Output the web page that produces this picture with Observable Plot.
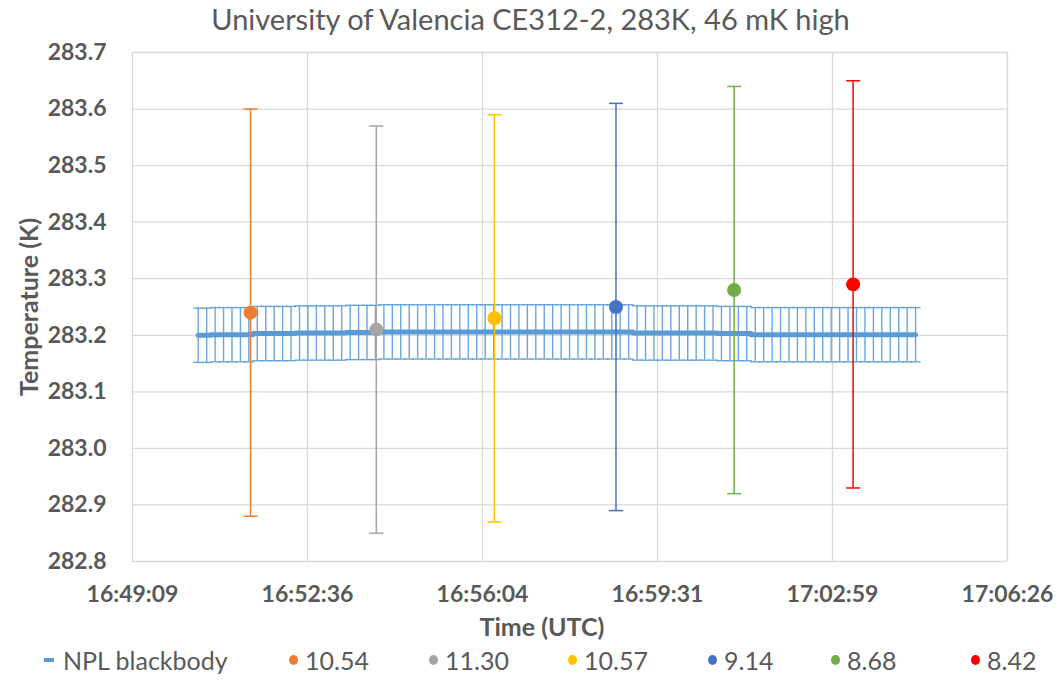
<!DOCTYPE html>
<html>
<head>
<meta charset="utf-8">
<script src="https://cdn.jsdelivr.net/npm/d3@7"></script>
<script src="https://cdn.jsdelivr.net/npm/@observablehq/plot@0.6"></script>
<style>
  body { margin: 0; background: #fff; font-family: Lato, "Open Sans", sans-serif; }
  #wrap { width: 1061px; height: 680px; position: relative; overflow: hidden; }
  #title { position: absolute; top: 1px; left: 0; width: 1061px; text-align: center; font-size: 29px; color: #595959; }
  #chart { position: absolute; top: 40px; left: 0; }
  #chart svg { font-family: Lato, "Open Sans", sans-serif; }
  #legend { position: absolute; top: 645px; left: 0; width: 1061px; height: 34px; }
  .item { position: absolute; top: 0; display: flex; align-items: center; font-size: 25px; color: #595959; }
  .dash { width: 10px; height: 4px; margin-right: 9px; }
  .dotm { width: 9px; height: 10px; border-radius: 50%; margin-right: 7px; }
</style>
</head>
<body>
<div id="wrap">
  <div id="title">University of Valencia CE312-2, 283K, 46 mK high</div>
  <div id="chart"></div>
  <div id="legend"></div>
</div>
<script>
// ---- Data ----
const bbTimes = [
  "16:50:27","16:50:37","16:50:47","16:50:57",
  "16:51:07","16:51:17","16:51:27","16:51:37","16:51:47","16:51:57",
  "16:52:07","16:52:17","16:52:27","16:52:37","16:52:47","16:52:57",
  "16:53:07","16:53:17","16:53:27","16:53:37","16:53:47","16:53:57",
  "16:54:07","16:54:17","16:54:27","16:54:37","16:54:47","16:54:57",
  "16:55:07","16:55:17","16:55:27","16:55:37","16:55:47","16:55:57",
  "16:56:07","16:56:17","16:56:27","16:56:37","16:56:47","16:56:57",
  "16:57:07","16:57:17","16:57:27","16:57:37","16:57:47","16:57:57",
  "16:58:07","16:58:17","16:58:27","16:58:37","16:58:47","16:58:57",
  "16:59:07","16:59:17","16:59:27","16:59:37","16:59:47","16:59:57",
  "17:00:07","17:00:17","17:00:27","17:00:37","17:00:47","17:00:57",
  "17:01:07","17:01:17","17:01:27","17:01:37","17:01:47","17:01:57",
  "17:02:07","17:02:17","17:02:27","17:02:37","17:02:47","17:02:57",
  "17:03:07","17:03:17","17:03:27","17:03:37","17:03:47","17:03:57",
  "17:04:07","17:04:17","17:04:27","17:04:37"
];
const bbTemps = [
  283.200,283.200,283.201,283.201,283.201,283.201,283.201,283.203,283.203,283.203,
  283.203,283.203,283.204,283.204,283.204,283.204,283.204,283.204,283.205,283.205,
  283.205,283.205,283.206,283.206,283.206,283.206,283.206,283.206,283.206,283.206,
  283.206,283.206,283.206,283.206,283.206,283.206,283.206,283.206,283.206,283.206,
  283.206,283.206,283.206,283.206,283.206,283.206,283.206,283.206,283.206,283.206,
  283.206,283.206,283.204,283.204,283.204,283.204,283.204,283.204,283.204,283.204,
  283.204,283.204,283.203,283.203,283.203,283.203,283.201,283.201,283.201,283.201,
  283.201,283.201,283.201,283.201,283.201,283.201,283.201,283.201,283.201,283.201,
  283.201,283.201,283.201,283.201,283.201,283.201
];
const bbErr = 0.048;
const bbLabel = "NPL blackbody";

const sampleTimes = ["16:51:29","16:53:58","16:56:18","16:58:42","17:01:02","17:03:23"];
const sampleTemps = [283.24, 283.21, 283.23, 283.25, 283.28, 283.29];
const sampleErr = 0.36;
const sampleLabels = ["10.54","11.30","10.57","9.14","8.68","8.42"];

const xTickTimes = ["16:49:09.12","16:52:36.48","16:56:03.84","16:59:31.20","17:02:58.56","17:06:25.92"];
const xTickLabels = ["16:49:09","16:52:36","16:56:04","16:59:31","17:02:59","17:06:26"];
const yTicks = [282.8, 282.9, 283.0, 283.1, 283.2, 283.3, 283.4, 283.5, 283.6, 283.7];

// ---- Styles ----
const bbColor = "#5B9BD5";
const sampleColors = ["#ED7D31","#A5A5A5","#FFC000","#4472C4","#70AD47","#FF0000"];
const textColor = "#595959";
const gridColor = "#D9D9D9";

// ---- Build ----
const parseT = t => new Date(`2000-01-01T${t}Z`);
const bb = bbTimes.map((t, i) => ({t: parseT(t), v: bbTemps[i]}));
const samples = sampleTimes.map((t, i) => ({t: parseT(t), v: sampleTemps[i], label: sampleLabels[i], color: sampleColors[i]}));
const xTicks = xTickTimes.map(parseT);
const labelMap = new Map(xTicks.map((d, i) => [+d, xTickLabels[i]]));

const cap = w => ({draw(ctx) { ctx.moveTo(-w, 0); ctx.lineTo(w, 0); }});

const plot = Plot.plot({
  width: 1061,
  height: 601,
  marginLeft: 132,
  marginRight: 54,
  marginTop: 12,
  marginBottom: 80,
  style: {fontSize: "23px", color: textColor, background: "white", overflow: "visible"},
  x: {type: "utc", domain: [xTicks[0], xTicks[xTicks.length - 1]]},
  y: {domain: [282.8, 283.7]},
  marks: [
    Plot.gridX(xTicks, {stroke: gridColor, strokeOpacity: 1, strokeWidth: 1.3}),
    Plot.gridY(yTicks, {stroke: gridColor, strokeOpacity: 1, strokeWidth: 1.3}),
    Plot.axisX(xTicks, {tickSize: 0, tickPadding: 24, tickFormat: d => labelMap.get(+d), fontWeight: "bold",
      label: "Time (UTC)", labelAnchor: "center", labelArrow: "none", labelOffset: 74}),
    Plot.axisY(yTicks, {tickSize: 0, tickPadding: 26, tickFormat: d => d.toFixed(1), fontWeight: "bold",
      label: "Temperature (K)", labelAnchor: "center", labelArrow: "none", labelOffset: 112}),
    // blackbody error bars
    Plot.ruleX(bb, {x: "t", y1: d => d.v - bbErr, y2: d => d.v + bbErr, stroke: bbColor, strokeWidth: 1.4, strokeOpacity: 0.9}),
    Plot.dot(bb, {x: "t", y: d => d.v + bbErr, symbol: cap(5), r: 1, stroke: bbColor, strokeWidth: 1.4, strokeOpacity: 0.9}),
    Plot.dot(bb, {x: "t", y: d => d.v - bbErr, symbol: cap(5), r: 1, stroke: bbColor, strokeWidth: 1.4, strokeOpacity: 0.9}),
    Plot.line(bb, {x: "t", y: "v", stroke: bbColor, strokeWidth: 5, curve: "step"}),
    // sample error bars
    Plot.ruleX(samples, {x: "t", y1: d => d.v - sampleErr, y2: d => d.v + sampleErr, stroke: "color", strokeWidth: 1.5}),
    Plot.dot(samples, {x: "t", y: d => d.v + sampleErr, symbol: cap(7), r: 1, stroke: "color", strokeWidth: 1.5}),
    Plot.dot(samples, {x: "t", y: d => d.v - sampleErr, symbol: cap(7), r: 1, stroke: "color", strokeWidth: 1.5}),
    Plot.dot(samples, {x: "t", y: "v", r: 7, fill: "color"})
  ]
});
plot.querySelectorAll("[aria-label='x-axis label'] text, [aria-label='y-axis label'] text").forEach(t => {
  t.setAttribute("font-weight", "bold");
  t.setAttribute("font-size", "25px");
});
plot.querySelectorAll("[aria-label='x-axis label'] text").forEach(t => {
  t.setAttribute("dx", "-28");
});
document.getElementById("chart").appendChild(plot);

// ---- Legend ----
const legend = document.getElementById("legend");
const legendLefts = [44, 289, 429, 568, 708, 831, 971];
const entries = [{label: bbLabel, color: bbColor, kind: "dash"}]
  .concat(samples.map(s => ({label: s.label, color: s.color, kind: "dot"})));
entries.forEach((e, i) => {
  const item = document.createElement("div");
  item.className = "item";
  item.style.left = legendLefts[i] + "px";
  const m = document.createElement("span");
  m.className = e.kind === "dash" ? "dash" : "dotm";
  m.style.background = e.color;
  item.appendChild(m);
  const s = document.createElement("span");
  s.textContent = e.label;
  item.appendChild(s);
  legend.appendChild(item);
});
</script>
</body>
</html>
